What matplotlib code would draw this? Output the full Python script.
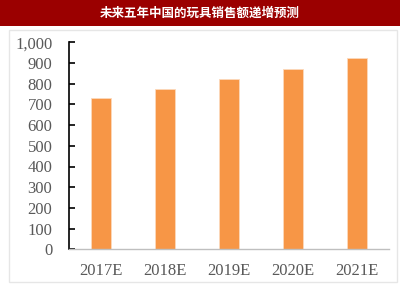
import matplotlib
matplotlib.use('Agg')
import matplotlib.pyplot as plt
from matplotlib.patches import Rectangle

years = ['2017E', '2018E', '2019E', '2020E', '2021E']
sales = [732, 775, 822, 871, 924]
title = '未来五年中国的玩具销售额递增预测'

fig = plt.figure(figsize=(4, 3), dpi=100)

# title banner and outer frame
fig.patches.append(Rectangle((0, 1 - 26 / 300), 1, 26 / 300, transform=fig.transFigure,
                             facecolor='#9B0000', edgecolor='none', zorder=0))
fig.patches.append(Rectangle((9 / 400, 1 - 282 / 300), 388 / 400, 252 / 300, transform=fig.transFigure,
                             facecolor='none', edgecolor='#E6E6E6', linewidth=1, zorder=0))
fig.text(0.5, 1 - 13.5 / 300, title, color='white', fontsize=9, fontweight='bold',
         ha='center', va='center', family=['Noto Sans CJK SC', 'DejaVu Sans'])

ax = fig.add_axes([69 / 400, 1 - 249.3 / 300, 320 / 400, 207 / 300])
ax.patch.set_alpha(0)
ax.bar(range(len(years)), sales, width=0.31, color='#F79646', edgecolor='#FCD9BC', linewidth=0.6)

ax.set_xlim(-0.5, len(years) - 0.5)
ax.set_ylim(0, 1000)
ax.set_yticks(range(0, 1001, 100))
ax.set_yticklabels([f'{v:,}' for v in range(0, 1001, 100)])
ax.set_xticks(range(len(years)))
ax.set_xticklabels(years)

for lab in ax.get_xticklabels() + ax.get_yticklabels():
    lab.set_family('Liberation Serif')
    lab.set_fontsize(12)
    lab.set_color('#595959')

ax.tick_params(axis='y', direction='in', length=4, width=1.2, pad=12, color='black')
ax.tick_params(axis='x', length=0, pad=10)
ax.spines['top'].set_visible(False)
ax.spines['right'].set_visible(False)
ax.spines['left'].set_color('black')
ax.spines['left'].set_linewidth(1.2)
ax.spines['bottom'].set_color('#BFBFBF')
ax.spines['bottom'].set_linewidth(1)

fig.savefig('out.png', dpi=100)
